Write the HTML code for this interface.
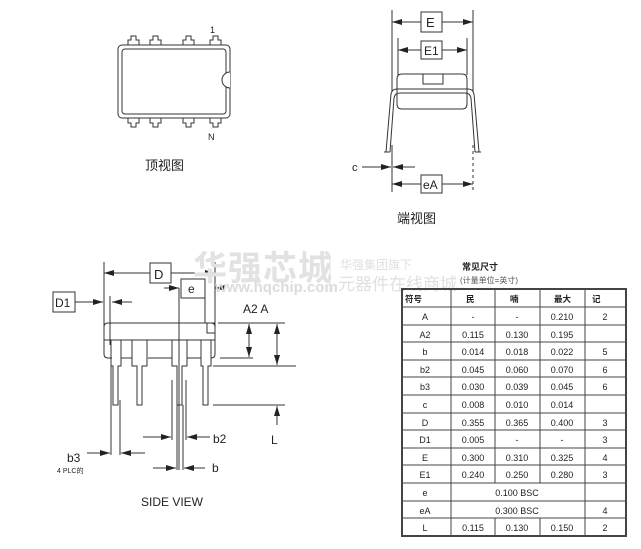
<!DOCTYPE html>
<html><head><meta charset="utf-8"><style>
body{margin:0;background:#fff;width:641px;height:549px;overflow:hidden}
svg{display:block}
text{font-family:"Liberation Sans","Noto Sans CJK SC",sans-serif;fill:#222}
</style></head><body>
<svg width="641" height="549" viewBox="0 0 641 549" xmlns="http://www.w3.org/2000/svg">
<defs>
<marker id="ar" markerWidth="10" markerHeight="6" refX="10" refY="3" orient="auto" markerUnits="userSpaceOnUse"><path d="M0,0 L10,3 L0,6z" fill="#222"/></marker>
</defs>
<g stroke="#333" fill="none" stroke-width="1">
<!-- TOP VIEW -->
<rect x="118" y="45" width="112" height="73" rx="4"/>
<rect x="122" y="49" width="104" height="65" rx="3"/>
<path d="M230,72 A8,8 0 0 0 230,88" fill="#fff"/>
<g>
<path d="M128,45 v-5 h3 v-4 h5 v4 h3 v5"/><path d="M150,45 v-5 h3 v-4 h5 v4 h3 v5"/>
<path d="M183,45 v-5 h3 v-4 h5 v4 h3 v5"/><path d="M210,45 v-5 h3 v-4 h5 v4 h3 v5"/>
<path d="M128,118 v5 h3 v4 h5 v-4 h3 v-5"/><path d="M150,118 v5 h3 v4 h5 v-4 h3 v-5"/>
<path d="M183,118 v5 h3 v4 h5 v-4 h3 v-5"/><path d="M210,118 v5 h3 v4 h5 v-4 h3 v-5"/>
</g>
<!-- END VIEW -->
<line x1="392" y1="10" x2="392" y2="92"/><line x1="473" y1="10" x2="473" y2="92"/>
<line x1="398" y1="38" x2="398" y2="75"/><line x1="467" y1="38" x2="467" y2="75"/>
<rect x="421" y="12" width="21" height="20"/><rect x="421" y="41" width="21" height="18"/>
<line x1="421" y1="22" x2="392" y2="22" marker-end="url(#ar)"/><line x1="442" y1="22" x2="473" y2="22" marker-end="url(#ar)"/>
<line x1="421" y1="50" x2="398" y2="50" marker-end="url(#ar)"/><line x1="442" y1="50" x2="467" y2="50" marker-end="url(#ar)"/>
<path d="M402,74 h60 q5,0 5,5 v25 q0,5 -5,5 h-60 q-5,0 -5,-5 v-25 q0,-5 5,-5z"/>
<rect x="423" y="74" width="20" height="10"/>
<path d="M386,152 L391,94 q1,-5 6,-5 h71 q5,0 6,5 L479,152"/>
<path d="M390,152 L394,98 q1,-5 6,-5 h65 q5,0 6,5 L475,152"/>
<line x1="384" y1="152" x2="390" y2="152"/><line x1="475" y1="152" x2="481" y2="152"/>
<line x1="392" y1="145" x2="392" y2="192"/><line x1="473" y1="145" x2="473" y2="192" stroke-dasharray="3,3"/>
<line x1="362" y1="167" x2="391" y2="167" marker-end="url(#ar)"/><line x1="415" y1="167" x2="393" y2="167" marker-end="url(#ar)"/>
<rect x="421" y="175" width="21" height="18"/>
<line x1="421" y1="184" x2="392" y2="184" marker-end="url(#ar)"/><line x1="442" y1="184" x2="473" y2="184" marker-end="url(#ar)"/>
<!-- SIDE VIEW -->
<line x1="104" y1="262" x2="104" y2="328"/><line x1="215" y1="262" x2="215" y2="328"/>
<rect x="150" y="263" width="21" height="20"/>
<line x1="150" y1="273" x2="104" y2="273" marker-end="url(#ar)"/><line x1="171" y1="273" x2="215" y2="273" marker-end="url(#ar)"/>
<rect x="181" y="279" width="24" height="19"/>
<line x1="164" y1="288" x2="179" y2="288" marker-end="url(#ar)"/><line x1="225" y1="288" x2="215" y2="288" marker-end="url(#ar)"/>
<line x1="179" y1="288" x2="179" y2="470"/><line x1="205" y1="298" x2="205" y2="323"/>
<rect x="53" y="292" width="22" height="20"/>
<line x1="75" y1="302" x2="103" y2="302" marker-end="url(#ar)"/><line x1="132" y1="302" x2="112" y2="302" marker-end="url(#ar)"/>
<line x1="110" y1="296" x2="110" y2="345"/>
<path d="M104,345 v-18 q0,-4 4,-4 h103 q4,0 4,4 v18"/>
<line x1="104" y1="340" x2="215" y2="340"/>
<path d="M104,340 v14 q0,4 4,4 h4 M215,340 v14 q0,4 -4,4 h-0"/>
<rect x="207" y="323" width="8" height="10"/>
<path d="M111,340 v26 h2 v39 h5 v-39 h3 v-26"/>
<path d="M132,340 v26 h5 v39 h5 v-39 h5 v-26"/>
<path d="M172,340 v26 h5 v39 h5 v-39 h5 v-26"/>
<path d="M201,340 v26 h2 v39 h5 v-39 h3 v-26"/>
<line x1="121" y1="358" x2="132" y2="358"/><line x1="148" y1="358" x2="172" y2="358"/><line x1="187" y1="358" x2="201" y2="358"/>
<line x1="111" y1="366" x2="111" y2="455"/><line x1="120" y1="400" x2="120" y2="455"/>
<line x1="172" y1="380" x2="172" y2="440"/><line x1="186" y1="380" x2="186" y2="440"/>
<line x1="177" y1="405" x2="177" y2="470"/><line x1="183" y1="405" x2="183" y2="470"/>
<line x1="218" y1="323" x2="285" y2="323"/><line x1="220" y1="358" x2="253" y2="358"/>
<line x1="213" y1="366" x2="296" y2="366"/><line x1="213" y1="405" x2="285" y2="405"/>
<line x1="249" y1="340" x2="249" y2="324" marker-end="url(#ar)"/><line x1="249" y1="340" x2="249" y2="357" marker-end="url(#ar)"/>
<line x1="277" y1="345" x2="277" y2="324" marker-end="url(#ar)"/><line x1="277" y1="345" x2="277" y2="365" marker-end="url(#ar)"/>
<line x1="277" y1="425" x2="277" y2="406" marker-end="url(#ar)"/>
<line x1="143" y1="437" x2="171" y2="437" marker-end="url(#ar)"/><line x1="210" y1="437" x2="187" y2="437" marker-end="url(#ar)"/>
<line x1="153" y1="468" x2="176" y2="468" marker-end="url(#ar)"/><line x1="205" y1="468" x2="184" y2="468" marker-end="url(#ar)"/>
<line x1="87" y1="453" x2="110" y2="453" marker-end="url(#ar)"/><line x1="145" y1="453" x2="121" y2="453" marker-end="url(#ar)"/>
</g>
<!-- labels -->
<text x="210" y="33" font-size="9">1</text>
<text x="208" y="140" font-size="9">N</text>
<text x="145" y="170" font-size="13">顶视图</text>
<text x="426" y="27" font-size="13">E</text>
<text x="424" y="55" font-size="12">E1</text>
<text x="352" y="171" font-size="11">c</text>
<text x="423" y="189" font-size="12">eA</text>
<text x="397" y="223" font-size="13">端视图</text>
<!-- watermark -->
<text x="193" y="280" font-size="34" font-weight="bold" style="fill:#e2e2e2;letter-spacing:1px">华强芯城</text>
<text x="215" y="292" font-size="15" font-weight="bold" style="fill:#dcdcdc">www.hqchip.com</text>
<line x1="330" y1="255" x2="330" y2="292" stroke="#e0e0e0"/>
<text x="340" y="269" font-size="12" style="fill:#e0e0e0">华强集团旗下</text>
<text x="338" y="290" font-size="17" style="fill:#e0e0e0">元器件在线商城</text>
<text x="154" y="279" font-size="13">D</text>
<text x="188" y="293" font-size="12">e</text>
<text x="55" y="307" font-size="12">D1</text>
<text x="243" y="313" font-size="12">A2 A</text>
<text x="271" y="444" font-size="12">L</text>
<text x="213" y="443" font-size="12">b2</text>
<text x="212" y="472" font-size="12">b</text>
<text x="67" y="462" font-size="12">b3</text>
<text x="57" y="473" font-size="7">4 PLC的</text>
<text x="141" y="506" font-size="12">SIDE VIEW</text>
<!-- table -->
<text x="462" y="270" font-size="9" font-weight="bold">常见尺寸</text>
<text x="460" y="283" font-size="8" style="fill:#555">(计量单位=英寸)</text>
<g stroke="#444" fill="none">
<rect x="402" y="289" width="224" height="247" stroke-width="2"/>
<line x1="402" y1="307" x2="626" y2="307"/>
<g stroke-width="1">
<line x1="402" y1="325" x2="626" y2="325"/><line x1="402" y1="342" x2="626" y2="342"/>
<line x1="402" y1="360" x2="626" y2="360"/><line x1="402" y1="377" x2="626" y2="377"/>
<line x1="402" y1="395" x2="626" y2="395"/><line x1="402" y1="413" x2="626" y2="413"/>
<line x1="402" y1="430" x2="626" y2="430"/><line x1="402" y1="448" x2="626" y2="448"/>
<line x1="402" y1="465" x2="626" y2="465"/><line x1="402" y1="483" x2="626" y2="483"/>
<line x1="402" y1="501" x2="626" y2="501"/><line x1="402" y1="518" x2="626" y2="518"/>
<line x1="451" y1="289" x2="451" y2="536"/><line x1="585" y1="289" x2="585" y2="536"/>
<line x1="495" y1="289" x2="495" y2="483"/><line x1="540" y1="289" x2="540" y2="483"/>
<line x1="495" y1="518" x2="495" y2="536"/><line x1="540" y1="518" x2="540" y2="536"/>
</g></g>
<g font-size="8.5" style="fill:#333">
<text x="405" y="302" font-weight="bold">符号</text><text x="466" y="302" font-weight="bold">民</text>
<text x="510" y="302" font-weight="bold">喃</text><text x="554" y="302" font-weight="bold">最大</text><text x="592" y="302" font-weight="bold">记</text>
</g>
<g font-size="9" text-anchor="middle" style="fill:#333">
<text x="425" y="320">A</text><text x="473" y="320">-</text><text x="517" y="320">-</text><text x="562" y="320">0.210</text><text x="605" y="320">2</text>
<text x="425" y="338">A2</text><text x="473" y="338">0.115</text><text x="517" y="338">0.130</text><text x="562" y="338">0.195</text>
<text x="425" y="355">b</text><text x="473" y="355">0.014</text><text x="517" y="355">0.018</text><text x="562" y="355">0.022</text><text x="605" y="355">5</text>
<text x="425" y="373">b2</text><text x="473" y="373">0.045</text><text x="517" y="373">0.060</text><text x="562" y="373">0.070</text><text x="605" y="373">6</text>
<text x="425" y="390">b3</text><text x="473" y="390">0.030</text><text x="517" y="390">0.039</text><text x="562" y="390">0.045</text><text x="605" y="390">6</text>
<text x="425" y="408">c</text><text x="473" y="408">0.008</text><text x="517" y="408">0.010</text><text x="562" y="408">0.014</text>
<text x="425" y="426">D</text><text x="473" y="426">0.355</text><text x="517" y="426">0.365</text><text x="562" y="426">0.400</text><text x="605" y="426">3</text>
<text x="425" y="443">D1</text><text x="473" y="443">0.005</text><text x="517" y="443">-</text><text x="562" y="443">-</text><text x="605" y="443">3</text>
<text x="425" y="461">E</text><text x="473" y="461">0.300</text><text x="517" y="461">0.310</text><text x="562" y="461">0.325</text><text x="605" y="461">4</text>
<text x="425" y="478">E1</text><text x="473" y="478">0.240</text><text x="517" y="478">0.250</text><text x="562" y="478">0.280</text><text x="605" y="478">3</text>
<text x="425" y="496">e</text><text x="517" y="496">0.100 BSC</text>
<text x="425" y="514">eA</text><text x="517" y="514">0.300 BSC</text><text x="605" y="514">4</text>
<text x="425" y="531">L</text><text x="473" y="531">0.115</text><text x="517" y="531">0.130</text><text x="562" y="531">0.150</text><text x="605" y="531">2</text>
</g>
</svg>
</body></html>
